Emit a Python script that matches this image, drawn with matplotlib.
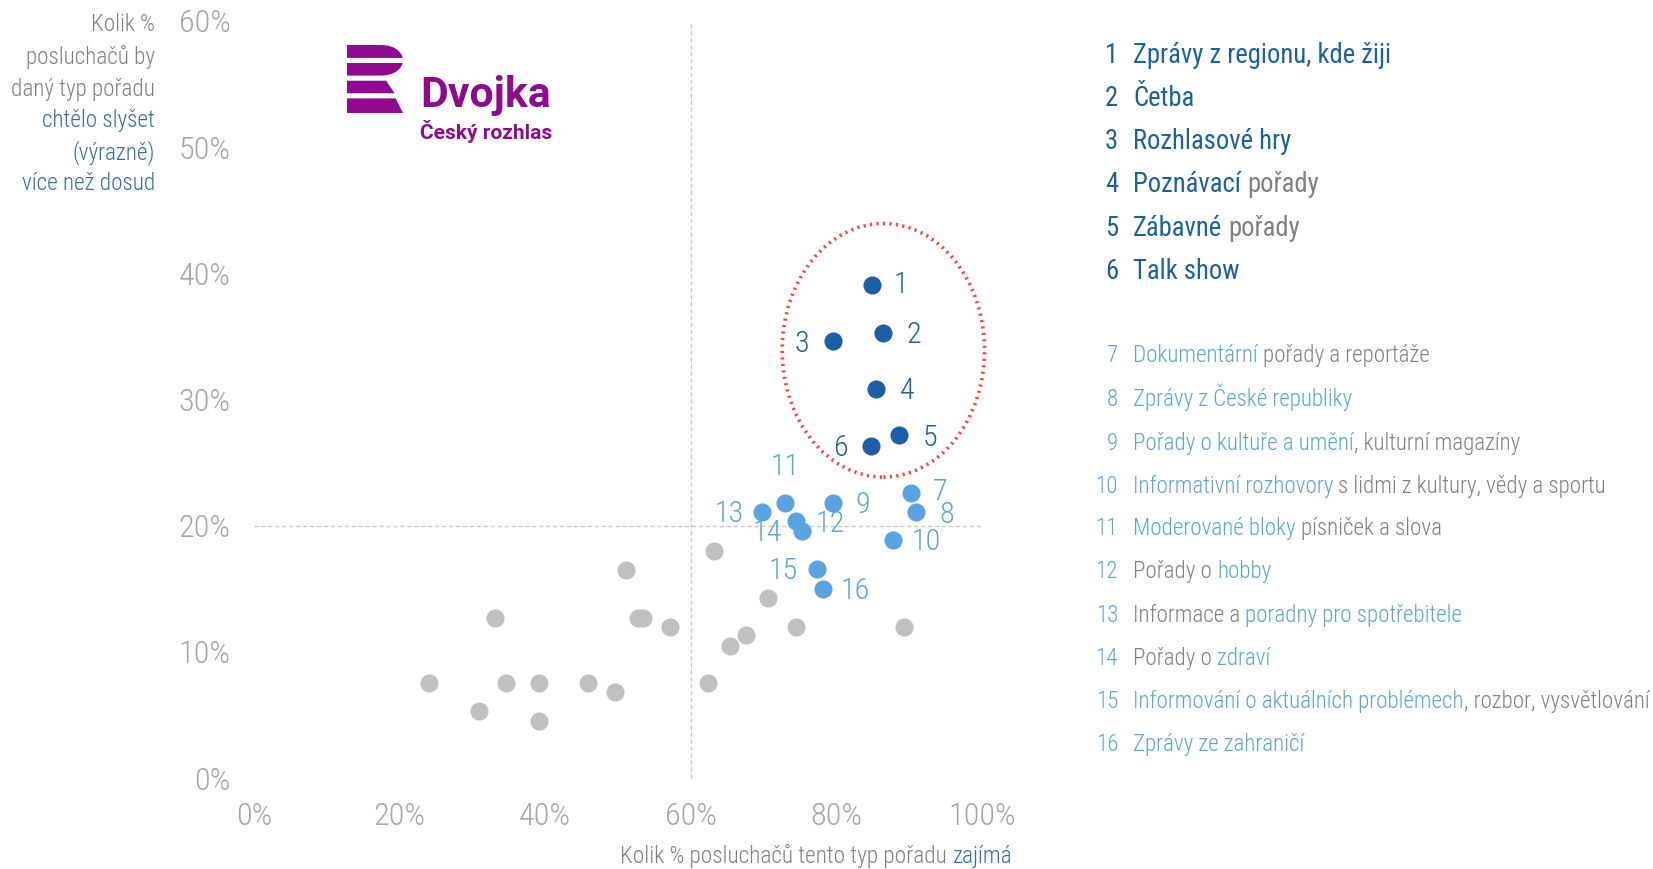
import numpy as np
import matplotlib
matplotlib.use("Agg")
import matplotlib.pyplot as plt
from matplotlib import font_manager as fm
from matplotlib.patches import Ellipse, Polygon
from matplotlib.ticker import FixedLocator, FuncFormatter

# ---------------- data ----------------
top_ids = [1, 2, 3, 4, 5, 6]
top_interest = [0.849, 0.864, 0.796, 0.855, 0.886, 0.848]
top_want = [0.391, 0.353, 0.346, 0.308, 0.272, 0.263]

mid_ids = [7, 8, 9, 10, 11, 12, 13, 14, 15, 16]
mid_interest = [0.902, 0.909, 0.796, 0.878, 0.729, 0.753, 0.698, 0.744, 0.773, 0.781]
mid_want = [0.226, 0.211, 0.218, 0.189, 0.218, 0.196, 0.211, 0.204, 0.166, 0.150]

other_interest = [0.632, 0.511, 0.331, 0.527, 0.535, 0.571, 0.706, 0.676, 0.654, 0.744,
                  0.893, 0.241, 0.346, 0.391, 0.459, 0.496, 0.309, 0.391, 0.624]
other_want = [0.180, 0.165, 0.127, 0.127, 0.127, 0.120, 0.143, 0.113, 0.105, 0.120,
              0.120, 0.075, 0.075, 0.075, 0.075, 0.068, 0.053, 0.045, 0.075]

x_ticks = [0.0, 0.2, 0.4, 0.6, 0.8, 1.0]
y_ticks = [0.0, 0.1, 0.2, 0.3, 0.4, 0.5, 0.6]

top_legend = [
    [("Zprávy z regionu, kde žiji", "dark")],
    [("Četba", "dark")],
    [("Rozhlasové hry", "dark")],
    [("Poznávací", "dark"), (" pořady", "gray")],
    [("Zábavné", "dark"), (" pořady", "gray")],
    [("Talk show", "dark")],
]
mid_legend = [
    [("Dokumentární", "light"), (" pořady a reportáže", "gray")],
    [("Zprávy z České republiky", "light")],
    [("Pořady o kultuře a umění", "light"), (", kulturní magazíny", "gray")],
    [("Informativní rozhovory", "light"), (" s lidmi z kultury, vědy a sportu", "gray")],
    [("Moderované bloky", "light"), (" písniček a slova", "gray")],
    [("Pořady o ", "gray"), ("hobby", "light")],
    [("Informace a ", "gray"), ("poradny pro spotřebitele", "light")],
    [("Pořady o ", "gray"), ("zdraví", "light")],
    [("Informování o aktuálních problémech", "light"), (", rozbor, vysvětlování", "gray")],
    [("Zprávy ze zahraničí", "light")],
]
y_title_lines = [("Kolik %", "gray"), ("posluchačů by", "gray"), ("daný typ pořadu", "gray"),
                 ("chtělo slyšet", "blue"), ("(výrazně)", "blue"), ("více než dosud", "blue")]
x_title = [("Kolik % posluchačů tento typ pořadu", "gray"), (" zajímá", "blue")]

# ---------------- styles ----------------
C = {"dark": "#1c5fa7", "light": "#5aa3e3", "gray": "#808080", "blue": "#2e6db5",
     "pt_gray": "#c0c0c0", "tick": "#a6a6a6", "purple": "#8f0a8f", "red": "#ff4242",
     "grid": "#c8c8c8"}

names = {f.name for f in fm.fontManager.ttflist}
FONT = {"family": "DejaVu Sans"}
LIGHT = "normal"
if "Roboto Condensed" in names:
    FONT = {"family": "Roboto Condensed"}
    LIGHT = "light"
elif "Liberation Sans Narrow" in names:
    FONT = {"family": "Liberation Sans Narrow"}
elif any(f.name == "DejaVu Sans" and "condensed" in str(f.stretch) for f in fm.fontManager.ttflist):
    FONT = {"family": "DejaVu Sans", "stretch": "condensed"}
elif "Roboto" in names:
    FONT = {"family": "Roboto"}
    LIGHT = "light"

W, H = 1653, 869
fig = plt.figure(figsize=(W / 100, H / 100), dpi=100)
renderer = fig.canvas.get_renderer()


def fx(px):
    return px / W


def fy(py):
    return 1 - py / H


def twidth(s, size, **kw):
    t = fig.text(0, 0, s, fontsize=size, **kw)
    w = t.get_window_extent(renderer=renderer).width
    t.remove()
    return w


def fit(s, target, **kw):
    return 20 * target / twidth(s, 20, **kw)


fs_tick = fit("100%", 68, weight=LIGHT, **FONT)
fs_top = fit("Zprávy z regionu, kde žiji", 258, weight="normal", **FONT)
fs_mid = fit("Informování o aktuálních problémech, rozbor, vysvětlování", 517, weight=LIGHT, **FONT)
fs_ytitle = fit("daný typ pořadu", 144, weight=LIGHT, **FONT)
fs_xtitle = fit("Kolik % posluchačů tento typ pořadu zajímá", 391, weight=LIGHT, **FONT)
fs_num = fs_tick * 0.93
fs_dv = fit("Dvojka", 130, weight="bold", family="Roboto")
fs_cr = fit("Český rozhlas", 131, weight="bold", family="Roboto")

# ---------------- axes ----------------
ax = fig.add_axes([fx(254), fy(778), 728 / W, 757 / H])
ax.set_xlim(0, 1)
ax.set_ylim(0, 0.6)
for sp in ax.spines.values():
    sp.set_visible(False)
ax.xaxis.set_major_locator(FixedLocator(x_ticks))
ax.yaxis.set_major_locator(FixedLocator(y_ticks))
pct = FuncFormatter(lambda v, p: f"{v * 100:.0f}%")
ax.xaxis.set_major_formatter(pct)
ax.yaxis.set_major_formatter(pct)
ax.tick_params(length=0, labelcolor=C["tick"], labelsize=fs_tick)
ax.tick_params(axis="x", pad=17)
ax.tick_params(axis="y", pad=17)
for lab in ax.get_xticklabels() + ax.get_yticklabels():
    lab.set_fontfamily(FONT["family"])
    lab.set_fontweight(LIGHT)
    if "stretch" in FONT:
        lab.set_fontstretch(FONT["stretch"])

ax.axhline(0.2, color=C["grid"], lw=1, ls=(0, (3, 2)), zorder=1)
ax.axvline(0.6, color=C["grid"], lw=1, ls=(0, (3, 2)), zorder=1)

ax.add_patch(Ellipse((0.8645, 0.339), 0.278, 0.201, fill=False, ec=C["red"], lw=2.6,
                     ls=(0, (0.6, 1.2)), zorder=2, clip_on=False))

ax.scatter(other_interest, other_want, s=170, color=C["pt_gray"], lw=0, zorder=3, clip_on=False)
ax.scatter(mid_interest, mid_want, s=170, color=C["light"], lw=0, zorder=4, clip_on=False)
ax.scatter(top_interest, top_want, s=170, color=C["dark"], lw=0, zorder=5, clip_on=False)

top_off = [(21, 0), (22, -1.5), (-23, -1.5), (22, -1.5), (22, -2), (-22, -1)]
mid_off = [(21, 0.5), (22, -2.5), (21, -1.5), (24, -2), (0, 26), (20, 4.5), (-24, -1.5),
           (-20.5, -9), (-24, -1.5), (23.5, -1.5)]
for i, xv, yv, off in zip(top_ids, top_interest, top_want, top_off):
    ax.annotate(str(i), (xv, yv), xytext=off, textcoords="offset points", ha="center",
                va="center", color=C["dark"], fontsize=fs_num, weight=LIGHT, **FONT)
for i, xv, yv, off in zip(mid_ids, mid_interest, mid_want, mid_off):
    ax.annotate(str(i), (xv, yv), xytext=off, textcoords="offset points", ha="center",
                va="center", color=C["light"], fontsize=fs_num, weight=LIGHT, **FONT)


# ---------------- multi-colour text helper ----------------
def chain(x_px, y_px, segs, size, weight, ha="left"):
    em = size * 100 / 72
    base = y_px + 0.36 * em
    sp = twidth("a a", size, weight=weight, **FONT) - twidth("aa", size, weight=weight, **FONT)
    order = segs if ha == "left" else segs[::-1]
    first_txt = order[0][0].strip()
    prev = fig.text(fx(x_px), fy(base), first_txt, color=C[order[0][1]], fontsize=size,
                    weight=weight, ha=ha, va="baseline", **FONT)
    prev_raw = order[0][0]
    for txt, col in order[1:]:
        if ha == "left":
            gap = sp if (txt.startswith(" ") or prev_raw.endswith(" ")) else 0
            t = ax.annotate(txt.strip(), xy=(1, 0), xycoords=prev, xytext=(gap * 0.72, 0),
                            textcoords="offset points", ha="left", va="bottom",
                            color=C[col], fontsize=size, weight=weight,
                            annotation_clip=False, **FONT)
        else:
            gap = sp if (prev_raw.startswith(" ") or txt.endswith(" ")) else 0
            t = ax.annotate(txt.strip(), xy=(0, 0), xycoords=prev, xytext=(-gap * 0.72, 0),
                            textcoords="offset points", ha="right", va="bottom",
                            color=C[col], fontsize=size, weight=weight,
                            annotation_clip=False, **FONT)
        prev = t
        prev_raw = txt


# legend top group
top_y = [53, 96, 139, 182, 226, 269]
for i, segs, yv in zip(top_ids, top_legend, top_y):
    em = fs_top * 100 / 72
    fig.text(fx(1118), fy(yv + 0.36 * em), str(i), color=C["dark"], fontsize=fs_top,
             ha="right", va="baseline", **FONT)
    chain(1133, yv, segs, fs_top, "normal")

mid_y = [354, 398, 442, 485, 527, 570, 614, 657, 700, 743]
for i, segs, yv in zip(mid_ids, mid_legend, mid_y):
    em = fs_mid * 100 / 72
    fig.text(fx(1118), fy(yv + 0.36 * em), str(i), color=C["light"], fontsize=fs_mid,
             ha="right", va="baseline", weight=LIGHT, **FONT)
    chain(1133, yv, segs, fs_mid, LIGHT)

# y title
ytl_y = [23, 56, 88, 119, 151, 182]
for (txt, col), yv in zip(y_title_lines, ytl_y):
    em = fs_ytitle * 100 / 72
    fig.text(fx(155), fy(yv + 0.36 * em), txt, color=C[col], fontsize=fs_ytitle,
             ha="right", va="baseline", weight=LIGHT, **FONT)

# x title
chain(1012, 855, x_title, fs_xtitle, LIGHT, ha="right")

# ---------------- logo ----------------
lax = fig.add_axes([fx(347), fy(113), 56 / W, 68 / H])
lax.set_xlim(0, 1)
lax.set_ylim(1, 0)
lax.axis("off")
bcx, brx, bcy, bry = 0.62, 0.38, 0.225, 0.225


def bowl_slice(v0, v1):
    vs = np.linspace(v0, v1, 40)
    xs = bcx + brx * np.sqrt(np.clip(1 - ((vs - bcy) / bry) ** 2, 0, 1))
    return [(0, v0)] + list(zip(xs, vs)) + [(0, v1)]


lax.add_patch(Polygon(bowl_slice(0.0, 0.19), closed=True, color=C["purple"], lw=0))
lax.add_patch(Polygon(bowl_slice(0.265, 0.45), closed=True, color=C["purple"], lw=0))
lax.add_patch(Polygon([(0, 0.525), (0.70, 0.525), (0.85, 0.71), (0, 0.71)], closed=True,
                      color=C["purple"], lw=0))
lax.add_patch(Polygon([(0, 0.785), (0.87, 0.785), (1.0, 1.0), (0, 1.0)], closed=True,
                      color=C["purple"], lw=0))

fig.text(fx(420), fy(107), "Dvojka", color=C["purple"], fontsize=fs_dv, weight="bold",
         family="Roboto", ha="left", va="baseline")
fig.text(fx(420), fy(139), "Český rozhlas", color=C["purple"], fontsize=fs_cr, weight="bold",
         family="Roboto", ha="left", va="baseline")

fig.savefig("out.png", dpi=100, facecolor="white")
